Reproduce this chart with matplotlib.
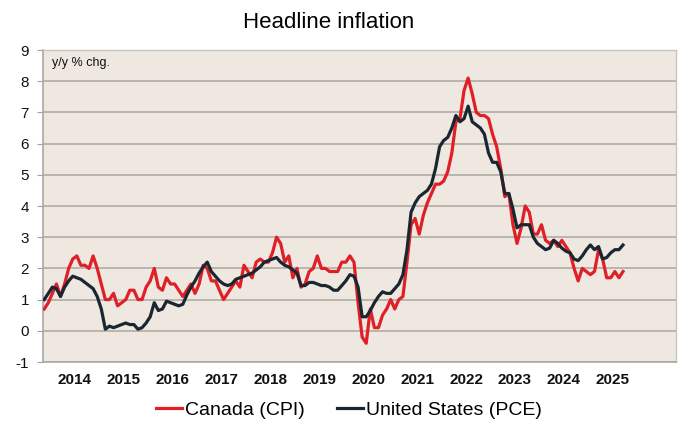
import numpy as np
import matplotlib
matplotlib.use("Agg")
import matplotlib.pyplot as plt

plt.rcParams['font.family'] = ['Liberation Sans', 'DejaVu Sans']
plt.rcParams['axes.unicode_minus'] = False

# monthly y/y % change, Oct 2013 .. Aug 2025
start_year, start_month = 2013, 10
canada_cpi = [
    0.7, 0.9, 1.2,
    1.5, 1.1, 1.5, 2.0, 2.3, 2.4, 2.1, 2.1, 2.0, 2.4, 2.0, 1.5,
    1.0, 1.0, 1.2, 0.8, 0.9, 1.0, 1.3, 1.3, 1.0, 1.0, 1.4, 1.6,
    2.0, 1.4, 1.3, 1.7, 1.5, 1.5, 1.3, 1.1, 1.3, 1.5, 1.2, 1.5,
    2.1, 2.0, 1.6, 1.6, 1.3, 1.0, 1.2, 1.4, 1.6, 1.4, 2.1, 1.9,
    1.7, 2.2, 2.3, 2.2, 2.2, 2.5, 3.0, 2.8, 2.2, 2.4, 1.7, 2.0,
    1.4, 1.5, 1.9, 2.0, 2.4, 2.0, 2.0, 1.9, 1.9, 1.9, 2.2, 2.2,
    2.4, 2.2, 0.9, -0.2, -0.4, 0.7, 0.1, 0.1, 0.5, 0.7, 1.0, 0.7,
    1.0, 1.1, 2.2, 3.4, 3.6, 3.1, 3.7, 4.1, 4.4, 4.7, 4.7, 4.8,
    5.1, 5.7, 6.7, 6.8, 7.7, 8.1, 7.6, 7.0, 6.9, 6.9, 6.8, 6.3,
    5.9, 5.2, 4.3, 4.4, 3.4, 2.8, 3.3, 4.0, 3.8, 3.1, 3.1, 3.4,
    2.9, 2.8, 2.9, 2.7, 2.9, 2.7, 2.5, 2.0, 1.6, 2.0, 1.9, 1.8,
    1.9, 2.6, 2.3, 1.7, 1.7, 1.9, 1.7, 1.9,
]
us_pce = [
    1.0, 1.2, 1.4,
    1.35, 1.1, 1.4, 1.6, 1.75, 1.7, 1.65, 1.55, 1.45, 1.35, 1.1, 0.7,
    0.05, 0.15, 0.1, 0.15, 0.2, 0.25, 0.2, 0.2, 0.05, 0.1, 0.25, 0.45,
    0.9, 0.65, 0.7, 0.95, 0.9, 0.85, 0.8, 0.85, 1.15, 1.4, 1.6, 1.85,
    2.05, 2.2, 1.9, 1.75, 1.6, 1.5, 1.45, 1.5, 1.65, 1.7, 1.75, 1.8,
    1.85, 1.95, 2.05, 2.2, 2.25, 2.3, 2.35, 2.2, 2.1, 2.05, 1.95, 1.85,
    1.45, 1.45, 1.55, 1.55, 1.5, 1.45, 1.45, 1.4, 1.3, 1.3, 1.45, 1.6,
    1.8, 1.75, 1.4, 0.45, 0.45, 0.65, 0.9, 1.1, 1.25, 1.2, 1.2, 1.35,
    1.5, 1.8, 2.6, 3.8, 4.1, 4.3, 4.4, 4.5, 4.7, 5.2, 5.9, 6.1,
    6.2, 6.5, 6.9, 6.7, 6.8, 7.2, 6.7, 6.6, 6.5, 6.3, 5.7, 5.4,
    5.4, 5.1, 4.4, 4.4, 3.9, 3.3, 3.4, 3.4, 3.4, 3.0, 2.8, 2.7,
    2.6, 2.65, 2.9, 2.8, 2.65, 2.55, 2.5, 2.3, 2.25, 2.4, 2.6, 2.75,
    2.6, 2.7, 2.3, 2.35, 2.5, 2.6, 2.6, 2.75,
]
years = list(range(2014, 2026))

months = np.arange(len(canada_cpi))  # months since start

fig = plt.figure(figsize=(6.83, 4.26), dpi=100)
W, H = 683, 426
ax = fig.add_axes([43 / W, 1 - 362 / H, (676 - 43) / W, (362 - 50) / H])
ax.set_facecolor('#EEE8E1')

ax.plot(months, canada_cpi, color='#E01F26', lw=2.3, label='Canada (CPI)', zorder=3)
ax.plot(months, us_pce, color='#1B2631', lw=2.3, label='United States (PCE)', zorder=4)

ax.set_ylim(-1, 9)
ax.set_yticks(range(-1, 10))
ax.set_xlim(-0.3, 155)
ax.yaxis.grid(True, color='#B0ABA5', lw=1.2)
ax.set_axisbelow(True)

# year labels centred under each year
label_pos = [(y - start_year) * 12 - (start_month - 1) + 4.5 for y in years]
ax.set_xticks(label_pos)
ax.set_xticklabels([str(y) for y in years], fontsize=11, fontweight='bold', color='#111111')
ax.tick_params(axis='x', length=0, pad=8)
ax.tick_params(axis='y', length=4, color='#A0A0A0', pad=6, labelsize=11, labelcolor='#111111')

for s in ['left', 'bottom']:
    ax.spines[s].set_color('#A8A8A8')
    ax.spines[s].set_linewidth(1.2)
for s in ['top', 'right']:
    ax.spines[s].set_color('#C8C4BF')
    ax.spines[s].set_linewidth(1.0)

ax.text(52 / W, 1 - 63 / H, 'y/y % chg.', transform=fig.transFigure, fontsize=9,
        va='center', ha='left', color='#111111')

fig.text(329 / W, 1 - 22 / H, 'Headline inflation', ha='center', va='center', fontsize=16)

fig.legend(loc='center', bbox_to_anchor=(349 / W, 1 - 410 / H), ncol=2, frameon=False,
           fontsize=14, handlelength=1.3, handletextpad=0.15, columnspacing=1.7)

fig.savefig('out.png', dpi=100)
